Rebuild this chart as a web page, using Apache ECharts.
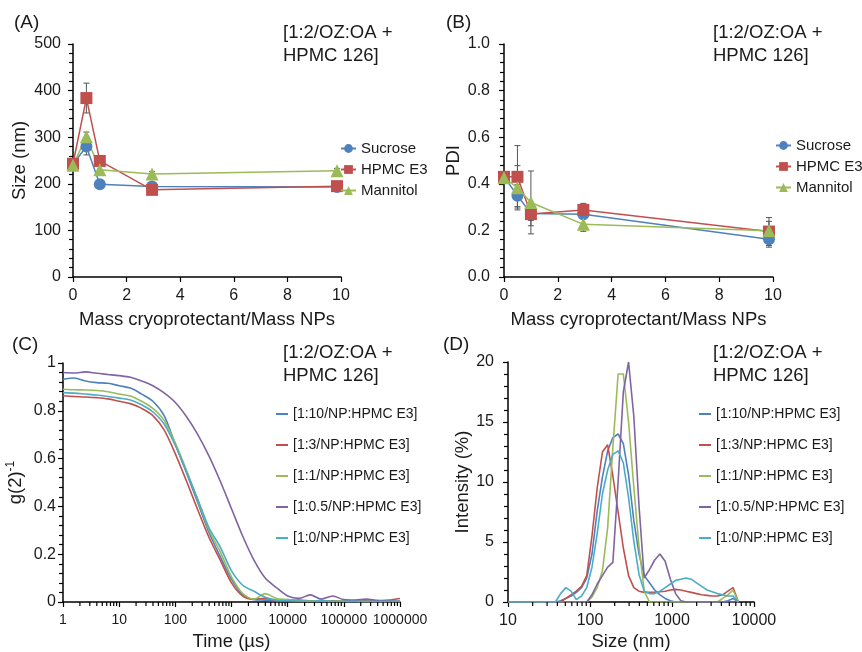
<!DOCTYPE html>
<html>
<head>
<meta charset="utf-8">
<script src="https://cdn.jsdelivr.net/npm/echarts@6/dist/echarts.min.js"></script>
<style>
html,body{margin:0;padding:0;background:#fff;}
#chart{width:862px;height:652px;}
</style>
</head>
<body>
<div id="chart"></div>
<script>
// ---------- Panel A / B data ----------
const massRatio = [0, 0.5, 1, 2.95, 9.85];
const sizeSucrose = [242, 280, 199, 194, 193];
const sizeHPMC = [243, 384, 249, 187, 195];
const sizeMannitol = [240, 301, 230, 221, 228];
const sizeErrSucrose = [5, 18, 6, 5, 4];
const sizeErrHPMC = [5, 32, 8, 6, 5];
const sizeErrMannitol = [5, 10, 11, 5, 5];

const pdiSucrose = [0.43, 0.349, 0.273, 0.269, 0.162];
const pdiHPMC = [0.43, 0.43, 0.27, 0.288, 0.195];
const pdiMannitol = [0.426, 0.383, 0.32, 0.226, 0.199];
const pdiErrSucrose = [0.01, 0.047, 0.03, 0.02, 0.034];
const pdiErrHPMC = [0.01, 0.134, 0.05, 0.028, 0.06];
const pdiErrMannitol = [0.01, 0.095, 0.135, 0.03, 0.04];

const seriesNamesAB = ['Sucrose', 'HPMC E3', 'Mannitol'];

// ---------- Panel C data ----------
const timeUs = [1, 1.585, 2.512, 3.981, 6.31, 10, 15.85, 25.12, 39.81, 63.1, 100, 158.5, 251.2, 398.1, 631, 1000, 1585, 2512, 3981, 6310, 10000, 15850, 25120, 39810, 63100, 100000, 158500, 251200, 398100, 631000, 1000000];
const g2_1_10  = [0.932,0.937,0.925,0.918,0.915,0.905,0.895,0.87,0.84,0.78,0.66,0.54,0.415,0.29,0.19,0.095,0.03,0.01,0.008,0.005,0.01,0.005,0.003,0.004,0.002,0.003,0.002,0.004,0.002,0.003,0.003];
const g2_1_3   = [0.863,0.86,0.858,0.855,0.85,0.84,0.83,0.81,0.78,0.72,0.62,0.505,0.385,0.27,0.175,0.08,0.025,0.012,0.015,0.006,0.005,0.008,0.005,0.003,0.005,0.003,0.005,0.004,0.006,0.008,0.015];
const g2_1_1   = [0.89,0.888,0.887,0.885,0.88,0.87,0.862,0.84,0.81,0.76,0.665,0.55,0.425,0.3,0.21,0.105,0.035,0.012,0.035,0.015,0.01,0.005,0.004,0.006,0.003,0.004,0.003,0.002,0.003,0.002,0.002];
const g2_1_05  = [0.96,0.958,0.963,0.957,0.952,0.947,0.94,0.925,0.905,0.875,0.835,0.775,0.70,0.61,0.505,0.39,0.275,0.175,0.1,0.06,0.025,0.015,0.03,0.012,0.025,0.01,0.008,0.012,0.006,0.004,0.003];
const g2_1_0   = [0.876,0.874,0.87,0.866,0.86,0.853,0.845,0.825,0.795,0.745,0.655,0.545,0.43,0.31,0.23,0.13,0.07,0.045,0.02,0.008,0.005,0.004,0.003,0.005,0.003,0.002,0.003,0.002,0.002,0.003,0.002];

// ---------- Panel D data ----------
const sizeNm = [10.1, 37.84, 43.82, 50.75, 58.77, 68.06, 78.82, 91.28, 105.7, 122.4, 141.8, 164.2, 190.1, 220.2, 255.0, 295.3, 342.0, 396.1, 458.7, 531.2, 615.1, 712.4, 825.0, 955.4, 1106, 1281, 1484, 1718, 1990, 2305, 2669, 3091, 3580, 4145, 4801, 5560, 6439];
const int_1_10 = [0,0,0.1,0.3,0.5,0.8,1.2,2.0,4.0,7.6,10.4,12.6,13.7,14.0,13.2,10.6,6.8,4.0,2.2,1.6,1.0,0.6,0.3,0.1,0,0,0,0,0,0,0,0,0,0,0.1,0.3,0];
const int_1_3  = [0,0,0,0.3,0.6,0.9,1.3,2.2,5.5,9.5,12.5,13.1,10.5,7.5,4.5,2.2,1.2,0.9,0.8,0.8,0.8,0.85,0.9,1.0,1.05,1.0,0.9,0.8,0.7,0.6,0.55,0.5,0.5,0.6,0.9,1.2,0];
const int_1_1  = [0,0,0,0,0,0,0,0,0.4,1.2,2.6,6.2,12.9,19.0,19.0,15.0,9.6,4.6,0.9,0,0,0,0,0,0,0,0,0,0,0,0,0,0,0.3,0.6,1.0,0];
const int_1_05 = [0,0,0,0,0,0,0,0,0.6,1.5,2.2,2.9,3.3,10.0,17.5,20.0,15.5,8.0,2.0,2.7,3.5,4.0,3.4,1.9,0.7,0.1,0,0,0,0,0,0,0,0,0,0,0];
const int_1_0  = [0,0,0.7,1.2,0.9,0.2,0.5,1.2,2.9,5.7,9.0,11.0,12.3,12.6,11.6,8.7,5.1,2.3,0.9,0.7,0.7,0.9,1.2,1.5,1.8,1.9,2.0,1.9,1.6,1.3,1.0,0.85,0.7,0.6,0.5,0.5,0];

const seriesNamesCD = ['[1:10/NP:HPMC E3]', '[1:3/NP:HPMC E3]', '[1:1/NP:HPMC E3]', '[1:0.5/NP:HPMC E3]', '[1:0/NP:HPMC E3]'];

// ---------- styling ----------
const FONT = "'Liberation Sans', Arial, sans-serif";
const TXT = '#1a1a1a';
const cBlue = '#4F81BD', cRed = '#C0504D', cGreen = '#9BBB59', cPurple = '#8064A2', cCyan = '#4BACC6';
const colorsCD = [cBlue, cRed, cGreen, cPurple, cCyan];
const TITLE_FS = 18.5;
const TICK_FS = 16;

const zip = (xs, ys) => xs.map((x, i) => [x, ys[i]]);

function lbl(extra) {
  return Object.assign({ color: TXT, fontFamily: FONT, fontSize: TICK_FS }, extra);
}
function axisBase(extra) {
  return Object.assign({
    splitLine: { show: false },
    axisLine: { show: true, onZero: false, lineStyle: { color: '#000', width: 1.5 } },
    axisTick: { show: true, length: 5, lineStyle: { color: '#000', width: 1.2 } },
    axisLabel: lbl({}),
    nameLocation: 'middle',
    nameTextStyle: { color: TXT, fontFamily: FONT, fontSize: TITLE_FS }
  }, extra);
}
function minorY(n) {
  return { minorTick: { show: true, splitNumber: n, length: 4, lineStyle: { color: '#000', width: 1.2 } } };
}

function errSeries(xi, yi, xs, ys, es) {
  return {
    type: 'custom', xAxisIndex: xi, yAxisIndex: yi, silent: true, z: 1,
    data: xs.map((x, i) => [x, ys[i], es[i]]),
    encode: { x: 0, y: 1 },
    renderItem: function (params, api) {
      const x = api.value(0), y = api.value(1), e = api.value(2);
      const t = api.coord([x, y + e]), b = api.coord([x, y - e]);
      const w = 3, st = { stroke: '#555', lineWidth: 1 };
      return { type: 'group', children: [
        { type: 'line', shape: { x1: t[0], y1: t[1], x2: b[0], y2: b[1] }, style: st },
        { type: 'line', shape: { x1: t[0] - w, y1: t[1], x2: t[0] + w, y2: t[1] }, style: st },
        { type: 'line', shape: { x1: b[0] - w, y1: b[1], x2: b[0] + w, y2: b[1] }, style: st }
      ] };
    }
  };
}

// minor tick positions for log axes (axis decoration only)
function logMinorTickValues(lo, hi) {
  const out = [];
  for (let d = lo; d < hi; d *= 10) for (let k = 2; k <= 9; k++) out.push([d * k, 0]);
  return out;
}
function logMinorSeries(xi, yi, lo, hi) {
  return {
    type: 'custom', xAxisIndex: xi, yAxisIndex: yi, silent: true, clip: false, z: 5,
    data: logMinorTickValues(lo, hi),
    encode: { x: 0, y: 1 },
    renderItem: function (params, api) {
      const p = api.coord([api.value(0), api.value(1)]);
      return { type: 'line', shape: { x1: p[0], y1: p[1], x2: p[0], y2: p[1] + 4 }, style: { stroke: '#000', lineWidth: 1.2 } };
    }
  };
}

function abSeries(xi, yi, vals) {
  const syms = ['circle', 'rect', 'triangle'];
  const sizes = [12, 12, 13];
  const cols = [cBlue, cRed, cGreen];
  return vals.map((v, i) => ({
    name: seriesNamesAB[i], type: 'line', xAxisIndex: xi, yAxisIndex: yi,
    data: zip(massRatio, v), symbol: syms[i], symbolSize: sizes[i], z: 3,
    lineStyle: { color: cols[i], width: 1.5 }, itemStyle: { color: cols[i] }
  }));
}
function cdSeries(xi, yi, xs, vals, smooth) {
  return vals.map((v, i) => ({
    name: seriesNamesCD[i], type: 'line', xAxisIndex: xi, yAxisIndex: yi,
    data: zip(xs, v), symbol: 'none', smooth: smooth, z: 3,
    lineStyle: { color: colorsCD[i], width: 1.6 }, itemStyle: { color: colorsCD[i] }
  }));
}

const annot = '[1:2/OZ:OA +\nHPMC 126]';
function txt(left, top, text, size, lh) {
  return { type: 'text', left: left, top: top, style: { text: text, fontFamily: FONT, fontSize: size, lineHeight: lh || size + 2, fill: TXT } };
}

const legendAB = (left, top) => ({
  data: seriesNamesAB, orient: 'vertical', left: left, top: top, padding: 0, itemWidth: 15, itemHeight: 11, itemGap: 6,
  textStyle: { color: TXT, fontFamily: FONT, fontSize: 15 }, selectedMode: false
});
const legendCD = (left, top) => ({
  data: seriesNamesCD, orient: 'vertical', left: left, top: top, padding: 0, itemWidth: 12, itemHeight: 2, itemGap: 15,
  icon: 'rect', textStyle: { color: TXT, fontFamily: FONT, fontSize: 14, lineHeight: 16 }, selectedMode: false
});

const chart = echarts.init(document.getElementById('chart'), null, { renderer: 'canvas' });
const option = {
  animation: false,
  backgroundColor: '#fff',
  grid: [
    { left: 73, top: 44, width: 268, height: 233 },
    { left: 504, top: 44, width: 269, height: 233 },
    { left: 63, top: 363, width: 337, height: 240 },
    { left: 508, top: 362, width: 246, height: 241 }
  ],
  xAxis: [
    axisBase({ gridIndex: 0, type: 'value', min: 0, max: 10, interval: 2, name: 'Mass cryoprotectant/Mass NPs', nameGap: 33, axisLabel: lbl({ margin: 11 }) }),
    axisBase({ gridIndex: 1, type: 'value', min: 0, max: 10, interval: 2, name: 'Mass cyroprotectant/Mass NPs', nameGap: 33, axisLabel: lbl({ margin: 11 }) }),
    axisBase({ gridIndex: 2, type: 'log', logBase: 10, min: 1, max: 1000000, interval: 1, name: 'Time (µs)', nameGap: 30,
      axisLabel: lbl({ fontSize: 14, margin: 11, formatter: v => String(Math.round(v)) }) }),
    axisBase({ gridIndex: 3, type: 'log', logBase: 10, min: 10, max: 10000, interval: 1, name: 'Size (nm)', nameGap: 30,
      axisLabel: lbl({ margin: 11, formatter: v => String(Math.round(v)) }) })
  ],
  yAxis: [
    axisBase(Object.assign({ gridIndex: 0, type: 'value', min: 0, max: 500, interval: 100, name: 'Size (nm)', nameGap: 44,
      axisLabel: lbl({ margin: 12 }) }, minorY(5))),
    axisBase(Object.assign({ gridIndex: 1, type: 'value', min: 0, max: 1, interval: 0.2, name: 'PDI', nameGap: 41,
      axisLabel: lbl({ margin: 14, formatter: v => v.toFixed(1) }) }, minorY(5))),
    axisBase(Object.assign({ gridIndex: 2, type: 'value', min: 0, max: 1, interval: 0.2, nameGap: 37,
      name: '{a|g(2)}{b|-1}',
      nameTextStyle: { color: TXT, fontFamily: FONT, fontSize: TITLE_FS,
        rich: { a: { fontFamily: FONT, fontSize: TITLE_FS, color: TXT }, b: { fontFamily: FONT, fontSize: 12, color: TXT, padding: [0, 0, 9, 0] } } },
      axisLabel: lbl({ margin: 7, formatter: v => String(Math.round(v * 10) / 10) }) }, minorY(5))),
    axisBase(Object.assign({ gridIndex: 3, type: 'value', min: 0, max: 20, interval: 5, name: 'Intensity (%)', nameGap: 35,
      axisLabel: lbl({ margin: 14 }) }, minorY(5)))
  ],
  legend: [legendAB(340, 141), legendAB(775, 138), legendCD(276, 406), legendCD(699, 406)],
  graphic: [
    txt(14, 12, '(A)', 19), txt(446, 12, '(B)', 19), txt(12, 334, '(C)', 19), txt(443, 334, '(D)', 19),
    txt(283, 21, annot, TITLE_FS, 23), txt(713, 21, annot, TITLE_FS, 23), txt(283, 341, annot, TITLE_FS, 23), txt(713, 341, annot, TITLE_FS, 23)
  ],
  series: [].concat(
    errSeries(0, 0, massRatio, sizeSucrose, sizeErrSucrose),
    errSeries(0, 0, massRatio, sizeHPMC, sizeErrHPMC),
    errSeries(0, 0, massRatio, sizeMannitol, sizeErrMannitol),
    abSeries(0, 0, [sizeSucrose, sizeHPMC, sizeMannitol]),
    errSeries(1, 1, massRatio, pdiSucrose, pdiErrSucrose),
    errSeries(1, 1, massRatio, pdiHPMC, pdiErrHPMC),
    errSeries(1, 1, massRatio, pdiMannitol, pdiErrMannitol),
    abSeries(1, 1, [pdiSucrose, pdiHPMC, pdiMannitol]),
    cdSeries(2, 2, timeUs, [g2_1_10, g2_1_3, g2_1_1, g2_1_05, g2_1_0], 0.3),
    cdSeries(3, 3, sizeNm, [int_1_10, int_1_3, int_1_1, int_1_05, int_1_0], false),
    logMinorSeries(2, 2, 1, 1000000),
    logMinorSeries(3, 3, 10, 10000)
  )
};
chart.setOption(option);
</script>
</body>
</html>
